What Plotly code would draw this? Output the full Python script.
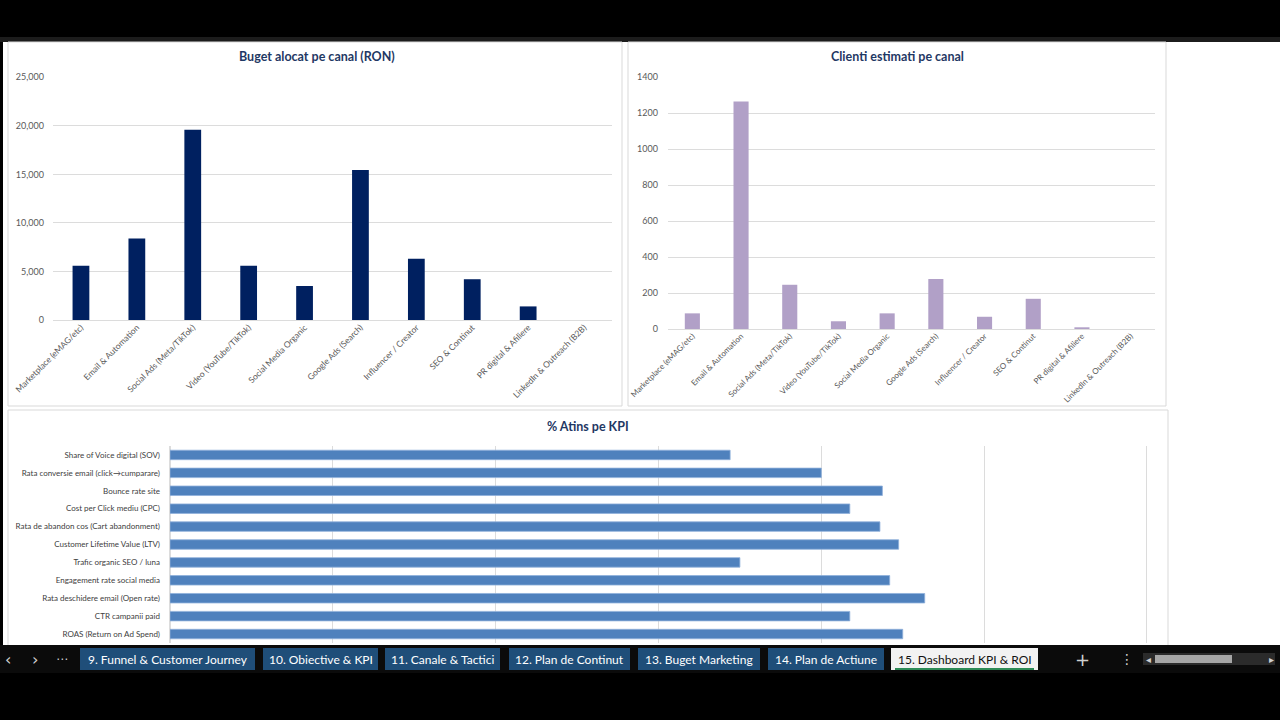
import plotly.graph_objects as go

W, H = 1280, 720

# ---------------- data ----------------
channels = [
    "Marketplace (eMAG/etc)", "Email & Automation", "Social Ads (Meta/TikTok)",
    "Video (YouTube/TikTok)", "Social Media Organic", "Google Ads (Search)",
    "Influencer / Creator", "SEO & Continut", "PR digital & Afiliere",
    "LinkedIn & Outreach (B2B)",
]
budget_ron = [5600, 8400, 19600, 5600, 3500, 15450, 6300, 4200, 1400, 0]
clients_est = [87, 1266, 246, 43, 87, 278, 68, 168, 5, 0]

kpi_names = [
    "Share of Voice digital (SOV)", "Rata conversie email (click→cumparare)",
    "Bounce rate site", "Cost per Click mediu (CPC)",
    "Rata de abandon cos (Cart abandonment)", "Customer Lifetime Value (LTV)",
    "Trafic organic SEO / luna", "Engagement rate social media",
    "Rata deschidere email (Open rate)", "CTR campanii paid",
    "ROAS (Return on Ad Spend)",
]
kpi_pct = [0.688, 0.80, 0.875, 0.835, 0.872, 0.895, 0.70, 0.884, 0.927, 0.835, 0.90]

titles = ["Buget alocat pe canal (RON)", "Clienti estimati pe canal", "% Atins pe KPI"]
tabs = ["9. Funnel & Customer Journey", "10. Obiective & KPI", "11. Canale & Tactici",
        "12. Plan de Continut", "13. Buget Marketing", "14. Plan de Actiune",
        "15. Dashboard KPI & ROI"]

FONT = "Lato, 'Open Sans', sans-serif"


def px(x):
    return x / W


def py(y):
    return 1 - y / H


fig = go.Figure()

fig.add_trace(go.Bar(x=channels, y=budget_ron, width=0.3, marker=dict(color="#002060", line=dict(width=0)),
                     xaxis="x", yaxis="y", hoverinfo="x+y"))
fig.add_trace(go.Bar(x=channels, y=clients_est, width=0.31, marker=dict(color="#B1A0C7", line=dict(width=0)),
                     xaxis="x2", yaxis="y2", hoverinfo="x+y"))
fig.add_trace(go.Bar(x=kpi_pct, y=kpi_names, orientation="h", width=0.53,
                     marker=dict(color="#4F81BD", line=dict(color="#8fb0da", width=0.8)),
                     xaxis="x3", yaxis="y3", hoverinfo="x+y"))

grid = "#DCDCDC"
val_font = dict(family=FONT, size=9, color="#595959")

layout = dict(
    width=W, height=H, margin=dict(l=0, r=0, t=0, b=0, autoexpand=False),
    paper_bgcolor="#000000", plot_bgcolor="#ffffff",
    showlegend=False, bargap=0.5,
    font=dict(family=FONT),
    xaxis=dict(domain=[px(53), px(612)], type="category", range=[-0.5, 9.5], tickangle=-45,
               tickfont=dict(family=FONT, size=8.5, color="#595959"), showgrid=False, showline=False,
               ticks="", anchor="y", automargin=False),
    yaxis=dict(domain=[py(320), py(77.3)], range=[0, 25000], dtick=5000, tickformat=",",
               gridcolor=grid, zeroline=True, zerolinecolor=grid, zerolinewidth=1,
               tickfont=val_font, ticklabelstandoff=8, anchor="x", automargin=False),
    xaxis2=dict(domain=[px(668), px(1155)], type="category", range=[-0.5, 9.5], tickangle=-45,
                tickfont=dict(family=FONT, size=8, color="#595959"), showgrid=False, showline=False,
                ticks="", anchor="y2", automargin=False),
    yaxis2=dict(domain=[py(329), py(77.3)], range=[0, 1400], dtick=200, tickformat="d",
                gridcolor=grid, zeroline=True, zerolinecolor=grid, zerolinewidth=1,
                tickfont=val_font, ticklabelstandoff=9, anchor="x2", automargin=False),
    xaxis3=dict(domain=[px(170), px(1149)], range=[0, 1.2025], tick0=0, dtick=0.2, tickformat=".0%",
                gridcolor=grid, zeroline=True, zerolinecolor=grid, showticklabels=False, anchor="y3",
                automargin=False),
    yaxis3=dict(domain=[py(643), py(446)], type="category", categoryorder="array", categoryarray=kpi_names,
                autorange="reversed", tickfont=dict(family=FONT, size=8, color="#404040"),
                ticklabelstandoff=9, showgrid=False, ticks="", anchor="x3", automargin=False),
)

shapes = []
# column header strip
shapes.append(dict(type="rect", xref="paper", yref="paper", x0=px(0), x1=px(1280), y0=py(42), y1=py(37),
                   fillcolor="#1c1c1c", line=dict(width=0), layer="below"))
# white sheet
shapes.append(dict(type="rect", xref="paper", yref="paper", x0=px(3), x1=px(1280), y0=py(645), y1=py(42),
                   fillcolor="#ffffff", line=dict(width=0), layer="below"))
# chart boxes
for (x0, y0, x1, y1) in [(8, 42, 622, 406), (628, 42, 1166, 406), (8, 410, 1168, 660)]:
    shapes.append(dict(type="rect", xref="paper", yref="paper", x0=px(x0), x1=px(x1), y0=py(y1), y1=py(y0),
                       fillcolor="#ffffff", line=dict(color="#D9D9D9", width=1), layer="below"))
# tab bar background
shapes.append(dict(type="rect", xref="paper", yref="paper", x0=0, x1=1, y0=0, y1=py(645),
                   fillcolor="#0b0b0b", line=dict(width=0), layer="above"))
shapes.append(dict(type="rect", xref="paper", yref="paper", x0=0, x1=1, y0=0, y1=py(673),
                   fillcolor="#000000", line=dict(width=0), layer="above"))
tab_pos = [(80, 255), (263, 378), (385, 500), (509, 630), (638, 760), (768, 884), (891, 1038)]
annotations = []
for i, ((a, b), name) in enumerate(zip(tab_pos, tabs)):
    active = i == len(tabs) - 1
    shapes.append(dict(type="rect", xref="paper", yref="paper", x0=px(a), x1=px(b), y0=py(670), y1=py(648),
                       fillcolor="#f2f2f2" if active else "#1F4E79", line=dict(width=0), layer="above"))
    if active:
        shapes.append(dict(type="rect", xref="paper", yref="paper", x0=px(a + 4), x1=px(b - 4), y0=py(670), y1=py(668),
                           fillcolor="#2e8b57", line=dict(width=0), layer="above"))
    annotations.append(dict(x=px((a + b) / 2), y=py(659.5), xref="paper", yref="paper", text=name, showarrow=False,
                            font=dict(family=FONT, size=12, color="#111111" if active else "#ffffff"),
                            xanchor="center", yanchor="middle"))
# scrollbar
shapes.append(dict(type="rect", xref="paper", yref="paper", x0=px(1143), x1=px(1275), y0=py(665), y1=py(653),
                   fillcolor="#2b2b2b", line=dict(width=0), layer="above"))
shapes.append(dict(type="rect", xref="paper", yref="paper", x0=px(1155), x1=px(1232), y0=py(663), y1=py(655),
                   fillcolor="#a6a6a6", line=dict(width=0), layer="above"))
for x, t, s in [(8, "‹", 16), (35, "›", 16), (62, "⋯", 12), (1082, "+", 18), (1127, "⋮", 14),
                (1148, "◂", 10), (1271, "▸", 10)]:
    annotations.append(dict(x=px(x), y=py(659), xref="paper", yref="paper", text=t, showarrow=False,
                            font=dict(family="DejaVu Sans", size=s, color="#d0d0d0"),
                            xanchor="center", yanchor="middle"))

# chart titles
for (x, y), t in zip([(317, 57), (897, 57), (588, 426)], titles):
    annotations.append(dict(x=px(x), y=py(y), xref="paper", yref="paper", text="<b>" + t + "</b>", showarrow=False,
                            font=dict(family=FONT, size=12.5, color="#1F3864"), xanchor="center", yanchor="middle"))

layout["shapes"] = shapes
layout["annotations"] = annotations
fig.update_layout(**layout)
fig.write_html("out.html")
